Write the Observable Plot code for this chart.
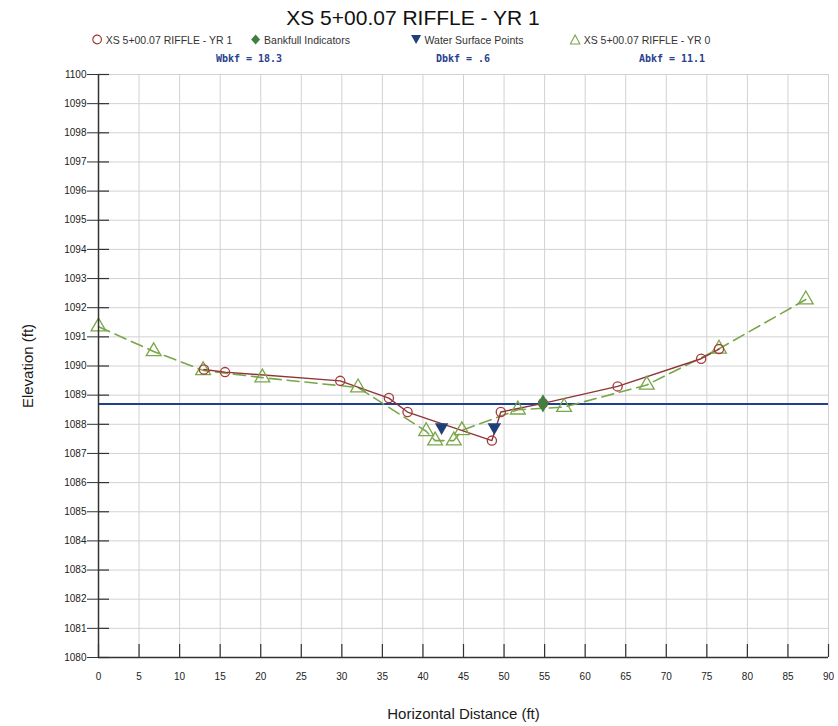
<!DOCTYPE html>
<html>
<head>
<meta charset="utf-8">
<script src="https://cdn.jsdelivr.net/npm/d3@7"></script>
<script src="https://cdn.jsdelivr.net/npm/@observablehq/plot@0.6"></script>
<style>
  body { margin: 0; background: #fff; font-family: "Liberation Sans", Arial, sans-serif; }
  #wrap { width: 838px; }
  #header { position: relative; width: 838px; height: 64px; }
  #header .t { position: absolute; white-space: nowrap; transform: translateX(-50%); }
  #title { left: 413px; top: 7px; font-size: 21px; line-height: 22px; color: #111; }
  .leg { top: 34px; font-size: 10.5px; line-height: 12px; color: #333; }
  .stat { top: 53px; font-family: "DejaVu Sans Mono", "Liberation Mono", monospace; font-weight: bold; font-size: 10px; line-height: 12px; color: #2a3f8f; }
  .sym { width: 11px; height: 11px; vertical-align: -1px; margin-right: 3px; }
  g[aria-label="y-axis label"] text, g[aria-label="x-axis label"] text { font-size: 15px; fill: #1a1a1a; }
</style>
</head>
<body>
<div id="wrap">
  <div id="header">
    <div id="title" class="t">XS 5+00.07 RIFFLE - YR 1</div>
    <div class="t leg" style="left:162px"><svg class="sym" viewBox="0 0 11 11"><circle cx="5.5" cy="5.5" r="4.3" fill="none" stroke="#a33b3b" stroke-width="1.2"/></svg>XS 5+00.07 RIFFLE - YR 1</div>
    <div class="t leg" style="left:300px"><svg class="sym" viewBox="0 0 11 11"><path d="M5.5 0.5 L10 5.5 L5.5 10.5 L1 5.5 Z" fill="#3f7f3f"/></svg>Bankfull Indicators</div>
    <div class="t leg" style="left:467px"><svg class="sym" viewBox="0 0 11 11"><path d="M0.5 1 L10.5 1 L5.5 10 Z" fill="#1f3f7a"/></svg>Water Surface Points</div>
    <div class="t leg" style="left:640px"><svg class="sym" viewBox="0 0 11 11"><path d="M5.5 1 L10.3 10 L0.7 10 Z" fill="none" stroke="#7aa64a" stroke-width="1.1"/></svg>XS 5+00.07 RIFFLE - YR 0</div>
    <div class="t stat" style="left:249px">Wbkf = 18.3</div>
    <div class="t stat" style="left:463px">Dbkf = .6</div>
    <div class="t stat" style="left:672px">Abkf = 11.1</div>
  </div>
  <div id="chart"></div>
</div>
<script>
// YR 1 survey (circles, solid line)
const yr1Dist = [13.0, 15.6, 29.8, 35.8, 38.1, 48.5, 49.6, 54.8, 64.0, 74.3, 76.5];
const yr1Elev = [1089.88, 1089.79, 1089.49, 1088.90, 1088.42, 1087.44, 1088.42, 1088.72, 1089.30, 1090.25, 1090.58];
// YR 0 survey (triangles, dashed line)
const yr0Dist = [0, 6.8, 12.9, 20.2, 32.0, 40.4, 41.5, 43.8, 44.8, 51.7, 57.4, 67.6, 76.5, 87.2];
const yr0Elev = [1091.35, 1090.50, 1089.85, 1089.60, 1089.26, 1087.76, 1087.44, 1087.44, 1087.79, 1088.50, 1088.59, 1089.35, 1090.59, 1092.28];
// Bankfull indicators
const bkfDist = [54.8];
const bkfElev = [1088.72];
// Water surface points
const wsDist = [42.3, 48.8];
const wsElev = [1087.9, 1087.9];
// Bankfull elevation line
const bankfullLine = [1088.7];
// Ticks
const xTicks = [0, 5, 10, 15, 20, 25, 30, 35, 40, 45, 50, 55, 60, 65, 70, 75, 80, 85, 90];
const yTicks = [1080, 1081, 1082, 1083, 1084, 1085, 1086, 1087, 1088, 1089, 1090, 1091, 1092, 1093, 1094, 1095, 1096, 1097, 1098, 1099, 1100];

const zip = (xs, ys) => xs.map((x, i) => ({x, y: ys[i]}));
const yr1 = zip(yr1Dist, yr1Elev);
const yr0 = zip(yr0Dist, yr0Elev);
const bkf = zip(bkfDist, bkfElev);
const ws = zip(wsDist, wsElev);

const W = 838, H = 662, mT = 10, mB = 69, mL = 98, mR = 10;
const plotW = W - mL - mR, plotH = H - mT - mB;

const chart = Plot.plot({
  width: W, height: H,
  marginTop: mT, marginBottom: mB, marginLeft: mL, marginRight: mR,
  style: {fontFamily: "'Liberation Sans', Arial, sans-serif", fontSize: "10px", color: "#222", background: "white"},
  x: {domain: [0, 90]},
  y: {domain: [1080, 1100]},
  marks: [
    Plot.gridX(xTicks, {stroke: "#d2d2d2", strokeOpacity: 1}),
    Plot.gridY(yTicks, {stroke: "#d2d2d2", strokeOpacity: 1}),
    Plot.ruleY(bankfullLine, {stroke: "#1f3f8f", strokeWidth: 2}),
    Plot.line(yr0, {x: "x", y: "y", stroke: "#7aa64a", strokeWidth: 1.6, strokeDasharray: "12,6"}),
    Plot.line(yr1, {x: "x", y: "y", stroke: "#8e3535", strokeWidth: 1.4}),
    Plot.dot(yr0, {x: "x", y: "y", symbol: "triangle", r: 5.5, stroke: "#7aa64a", strokeWidth: 1.3, fill: "none"}),
    Plot.dot(yr1, {x: "x", y: "y", symbol: "circle", r: 4.6, stroke: "#a33b3b", strokeWidth: 1.3, fill: "none"}),
    Plot.dot(bkf, {x: "x", y: "y", symbol: "diamond", r: 5.5, fill: "#3f7f3f", stroke: "none"}),
    Plot.dot(ws, {x: "x", y: "y", symbol: "triangle", rotate: 180, r: 5, fill: "#1f3f7a", stroke: "none"}),
    Plot.ruleX([0], {stroke: "#333", strokeWidth: 1.5}),
    Plot.ruleY([1080], {stroke: "#333", strokeWidth: 1.5}),
    Plot.axisY(yTicks, {tickSize: 11, tickPadding: 1, stroke: "#333", tickFormat: d3.format("d"), label: "Elevation (ft)", labelArrow: "none", labelAnchor: "center", labelOffset: 76}),
    Plot.ruleY(yTicks, {insetRight: plotW - 11, stroke: "#333", strokeWidth: 1.2}),
    Plot.axisX(xTicks, {tickSize: 0, tickPadding: 15, tickFormat: d3.format("d"), label: "Horizontal Distance (ft)", labelArrow: "none", labelAnchor: "center", labelOffset: 61}),
    Plot.ruleX(xTicks, {insetTop: plotH - 13, stroke: "#333", strokeWidth: 1.2})
  ]
});
document.getElementById("chart").appendChild(chart);
</script>
</body>
</html>
